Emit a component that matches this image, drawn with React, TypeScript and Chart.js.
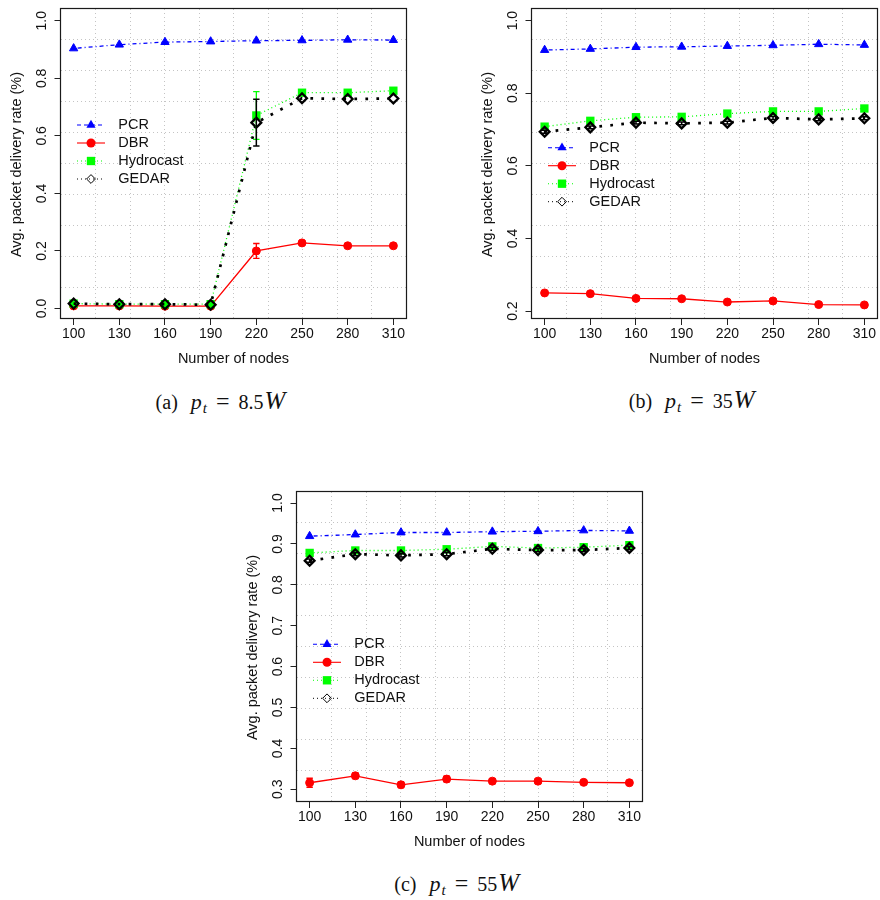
import React, { useEffect, useRef } from "react";
import { Chart, registerables } from "chart.js";

Chart.register(...registerables);

// ---------- data ----------
const nodes = [100, 130, 160, 190, 220, 250, 280, 310];
const xTicks = [100, 130, 160, 190, 220, 250, 280, 310];
const xRange = [91.7, 318.3];
const seriesNames = ["PCR", "DBR", "Hydrocast", "GEDAR"];

// (a) p_t = 8.5W
const pcrA = [0.904, 0.917, 0.926, 0.928, 0.931, 0.932, 0.934, 0.933];
const dbrA = [0.009, 0.009, 0.008, 0.008, 0.2, 0.228, 0.218, 0.218];
const hydroA = [0.017, 0.015, 0.015, 0.015, 0.671, 0.75, 0.75, 0.757];
const gedarA = [0.017, 0.015, 0.015, 0.013, 0.646, 0.731, 0.728, 0.73];
const pcrErrA = [0, 0, 0, 0, 0, 0, 0, 0];
const dbrErrA = [0, 0, 0, 0, 0.026, 0, 0, 0];
const hydroErrA = [0, 0, 0, 0, 0.083, 0, 0, 0];
const gedarErrA = [0, 0, 0, 0, 0.081, 0, 0, 0];
const yTicksA = [0, 0.2, 0.4, 0.6, 0.8, 1.0];
const yLabelsA = ["0.0", "0.2", "0.4", "0.6", "0.8", "1.0"];
const yRangeA = [-0.033, 1.041];

// (b) p_t = 35W
const pcrB = [0.919, 0.922, 0.927, 0.928, 0.93, 0.932, 0.935, 0.933];
const dbrB = [0.25, 0.248, 0.235, 0.234, 0.225, 0.228, 0.218, 0.217];
const hydroB = [0.708, 0.724, 0.734, 0.735, 0.744, 0.75, 0.75, 0.758];
const gedarB = [0.694, 0.706, 0.719, 0.717, 0.719, 0.732, 0.728, 0.731];
const pcrErrB = [0, 0, 0, 0, 0, 0, 0, 0];
const dbrErrB = [0.004, 0.004, 0.004, 0.004, 0.004, 0.004, 0.003, 0.003];
const hydroErrB = [0, 0, 0, 0, 0, 0, 0, 0];
const gedarErrB = [0.004, 0.004, 0.004, 0.004, 0.004, 0.004, 0.004, 0.004];
const yTicksB = [0.2, 0.4, 0.6, 0.8, 1.0];
const yLabelsB = ["0.2", "0.4", "0.6", "0.8", "1.0"];
const yRangeB = [0.181, 1.032];

// (c) p_t = 55W
const pcrC = [0.919, 0.923, 0.928, 0.928, 0.93, 0.931, 0.933, 0.932];
const dbrC = [0.316, 0.333, 0.311, 0.325, 0.32, 0.32, 0.317, 0.316];
const hydroC = [0.878, 0.884, 0.884, 0.887, 0.894, 0.89, 0.892, 0.897];
const gedarC = [0.859, 0.875, 0.872, 0.875, 0.888, 0.885, 0.885, 0.89];
const pcrErrC = [0, 0, 0, 0, 0, 0, 0, 0];
const dbrErrC = [0.011, 0.007, 0.007, 0.007, 0.006, 0.006, 0.004, 0.004];
const hydroErrC = [0, 0, 0, 0, 0, 0, 0, 0];
const gedarErrC = [0.004, 0.004, 0.004, 0.004, 0.004, 0.004, 0.004, 0.004];
const yTicksC = [0.3, 0.4, 0.5, 0.6, 0.7, 0.8, 0.9, 1.0];
const yLabelsC = ["0.3", "0.4", "0.5", "0.6", "0.7", "0.8", "0.9", "1.0"];
const yRangeC = [0.2714, 1.027];

// ---------- styles ----------
const STYLES = [
  { color: "#0000FF", dash: [1, 3, 4, 3], width: 1.3, point: "triangle", radius: 4.8, pb: 1, fill: true, lw: 1.1, ldash: [4, 3], errW: 1 },
  { color: "#FF0000", dash: [], width: 1.3, point: "circle", radius: 4.0, pb: 1, fill: true, lw: 1.1, ldash: [], errW: 1.3 },
  { color: "#00FF00", dash: [1, 3], width: 1.3, point: "rect", radius: 5.9, pb: 0, fill: true, lw: 1.1, ldash: [1, 3], errW: 1.3 },
  { color: "#000000", dash: [2.7, 8.3], width: 2.7, point: "rectRot", radius: 4.9, pb: 2.3, fill: false, lw: 1, ldash: [1, 3], errW: 1.5 },
];

const W = 415;
const H = 380;
const FONT = '"Liberation Sans", Arial, Helvetica, sans-serif';

type PanelDef = {
  values: number[][];
  errs: number[][];
  yRange: number[];
  yTicks: number[];
  yLabels: string[];
  legendTop: number;
};

const panelA: PanelDef = {
  values: [pcrA, dbrA, hydroA, gedarA],
  errs: [pcrErrA, dbrErrA, hydroErrA, gedarErrA],
  yRange: yRangeA, yTicks: yTicksA, yLabels: yLabelsA, legendTop: 116,
};
const panelB: PanelDef = {
  values: [pcrB, dbrB, hydroB, gedarB],
  errs: [pcrErrB, dbrErrB, hydroErrB, gedarErrB],
  yRange: yRangeB, yTicks: yTicksB, yLabels: yLabelsB, legendTop: 138.7,
};
const panelC: PanelDef = {
  values: [pcrC, dbrC, hydroC, gedarC],
  errs: [pcrErrC, dbrErrC, hydroErrC, gedarErrC],
  yRange: yRangeC, yTicks: yTicksC, yLabels: yLabelsC, legendTop: 152.3,
};

function drawMarker(ctx: CanvasRenderingContext2D, kind: string, x: number, y: number, r: number, color: string, fill: boolean, lw: number) {
  ctx.save();
  ctx.setLineDash([]);
  ctx.beginPath();
  if (kind === "triangle") {
    for (let k = 0; k < 3; k++) {
      const a = (k * 2 * Math.PI) / 3;
      const px = x + Math.sin(a) * r;
      const py = y - Math.cos(a) * r;
      if (k === 0) ctx.moveTo(px, py);
      else ctx.lineTo(px, py);
    }
    ctx.closePath();
  } else if (kind === "circle") {
    ctx.arc(x, y, r, 0, Math.PI * 2);
  } else if (kind === "rect") {
    const s = r * Math.SQRT1_2;
    ctx.rect(x - s, y - s, 2 * s, 2 * s);
  } else {
    ctx.moveTo(x, y - r);
    ctx.lineTo(x + r, y);
    ctx.lineTo(x, y + r);
    ctx.lineTo(x - r, y);
    ctx.closePath();
  }
  if (fill) {
    ctx.fillStyle = color;
    ctx.fill();
  }
  if (lw > 0) {
    ctx.strokeStyle = color;
    ctx.lineWidth = lw;
    ctx.stroke();
  }
  ctx.restore();
}

function makeDecor(def: PanelDef) {
  return {
    id: "panelDecor",
    afterDatasetsDraw(chart: any) {
      const ctx: CanvasRenderingContext2D = chart.ctx;
      const xs = chart.scales.x;
      const ys = chart.scales.y;
      def.errs.forEach((errs, si) => {
        const st = STYLES[si];
        errs.forEach((e, i) => {
          if (!e) return;
          const v = def.values[si][i];
          const px = xs.getPixelForValue(nodes[i]);
          const y1 = ys.getPixelForValue(v - e);
          const y2 = ys.getPixelForValue(v + e);
          ctx.save();
          ctx.setLineDash([]);
          ctx.strokeStyle = st.color;
          ctx.lineWidth = st.errW;
          ctx.beginPath();
          ctx.moveTo(px, y1);
          ctx.lineTo(px, y2);
          ctx.moveTo(px - 3.2, y1);
          ctx.lineTo(px + 3.2, y1);
          ctx.moveTo(px - 3.2, y2);
          ctx.lineTo(px + 3.2, y2);
          ctx.stroke();
          ctx.restore();
        });
      });
    },
    afterDraw(chart: any) {
      const ctx: CanvasRenderingContext2D = chart.ctx;
      const ca = chart.chartArea;
      const xs = chart.scales.x;
      const ys = chart.scales.y;
      ctx.save();
      // box
      ctx.setLineDash([]);
      ctx.strokeStyle = "#1a1a1a";
      ctx.lineWidth = 1.2;
      ctx.strokeRect(ca.left - 0.5, ca.top - 0.5, ca.right - ca.left + 1, ca.bottom - ca.top + 1);
      ctx.fillStyle = "#111";
      // x tick labels
      ctx.font = "14px " + FONT;
      ctx.textAlign = "center";
      ctx.textBaseline = "middle";
      xTicks.forEach((v) => {
        ctx.fillText(String(v), xs.getPixelForValue(v), ca.bottom + 16.5);
      });
      // y tick labels (rotated)
      def.yTicks.forEach((v, i) => {
        ctx.save();
        ctx.translate(ca.left - 19, ys.getPixelForValue(v));
        ctx.rotate(-Math.PI / 2);
        ctx.fillText(def.yLabels[i], 0, 0);
        ctx.restore();
      });
      // axis titles
      ctx.font = "14.5px " + FONT;
      ctx.fillText("Number of nodes", (ca.left + ca.right) / 2, ca.bottom + 41);
      ctx.save();
      ctx.translate(ca.left - 44, (ca.top + ca.bottom) / 2 + 1);
      ctx.rotate(-Math.PI / 2);
      ctx.fillText("Avg. packet delivery rate (%)", 0, 0);
      ctx.restore();
      // legend
      ctx.textAlign = "left";
      seriesNames.forEach((name, i) => {
        const st = STYLES[i];
        const y = ca.top + def.legendTop + i * 18;
        ctx.save();
        ctx.strokeStyle = st.color;
        ctx.lineWidth = st.lw;
        ctx.setLineDash(st.ldash);
        ctx.beginPath();
        ctx.moveTo(ca.left + 16, y);
        ctx.lineTo(ca.left + 44, y);
        ctx.stroke();
        ctx.restore();
        const r = i === 3 ? 4.4 : st.radius + (st.pb ? 0.5 : 0);
        drawMarker(ctx, st.point, ca.left + 30, y, r, st.color, st.fill, i === 3 ? 1 : 0);
        ctx.fillStyle = "#111";
        ctx.fillText(name, ca.left + 57.3, y);
      });
      ctx.restore();
    },
  };
}

function gridPositions(range: number[]) {
  const step = (range[1] - range[0]) / 10;
  const out: number[] = [];
  for (let k = 1; k < 10; k++) out.push(range[0] + k * step);
  return out;
}

function buildConfig(def: PanelDef): any {
  const gridX = gridPositions(xRange);
  const gridY = gridPositions(def.yRange);
  return {
    type: "line",
    data: {
      datasets: def.values.map((vals, i) => {
        const st = STYLES[i];
        return {
          label: seriesNames[i],
          data: nodes.map((x, j) => ({ x, y: vals[j] })),
          borderColor: st.color,
          backgroundColor: st.fill ? st.color : "rgba(0,0,0,0)",
          borderWidth: st.width,
          borderDash: st.dash,
          pointStyle: st.point,
          pointRadius: st.radius,
          pointHoverRadius: st.radius,
          pointBorderWidth: st.pb,
          pointBackgroundColor: st.fill ? st.color : "rgba(0,0,0,0)",
          pointBorderColor: st.color,
          tension: 0,
          fill: false,
          order: 3 - i,
        };
      }),
    },
    options: {
      responsive: false,
      animation: false,
      devicePixelRatio: 1,
      events: [],
      layout: { padding: { left: 0, top: 9, right: 9, bottom: 0 } },
      plugins: { legend: { display: false }, tooltip: { enabled: false }, title: { display: false } },
      scales: {
        x: {
          type: "linear",
          position: "bottom",
          min: xRange[0],
          max: xRange[1],
          ticks: { display: false },
          grid: { display: true, drawOnChartArea: false, drawTicks: true, tickLength: 7, color: "#222", lineWidth: 1 },
          border: { display: false },
          afterBuildTicks: (s: any) => {
            s.ticks = xTicks.map((v) => ({ value: v }));
          },
          afterFit: (s: any) => {
            s.height = 62;
          },
        },
        y: {
          type: "linear",
          position: "left",
          min: def.yRange[0],
          max: def.yRange[1],
          ticks: { display: false },
          grid: { display: true, drawOnChartArea: false, drawTicks: true, tickLength: 6.5, color: "#222", lineWidth: 1 },
          border: { display: false },
          afterBuildTicks: (s: any) => {
            s.ticks = def.yTicks.map((v) => ({ value: v }));
          },
          afterFit: (s: any) => {
            s.width = 61;
          },
        },
        xg: {
          type: "linear",
          position: "bottom",
          min: xRange[0],
          max: xRange[1],
          ticks: { display: false },
          grid: { display: true, drawTicks: false, color: "#c4c4c4", lineWidth: 1 },
          border: { display: false, dash: [1, 3] },
          afterBuildTicks: (s: any) => {
            s.ticks = gridX.map((v) => ({ value: v }));
          },
          afterFit: (s: any) => {
            s.height = 0;
          },
        },
        yg: {
          type: "linear",
          position: "left",
          min: def.yRange[0],
          max: def.yRange[1],
          ticks: { display: false },
          grid: { display: true, drawTicks: false, color: "#c4c4c4", lineWidth: 1 },
          border: { display: false, dash: [1, 3] },
          afterBuildTicks: (s: any) => {
            s.ticks = gridY.map((v) => ({ value: v }));
          },
          afterFit: (s: any) => {
            s.width = 0;
          },
        },
      },
    },
    plugins: [makeDecor(def)],
  };
}

function Panel({ def, left, top }: { def: PanelDef; left: number; top: number }) {
  const ref = useRef<HTMLCanvasElement | null>(null);
  useEffect(() => {
    if (!ref.current) return;
    const chart = new Chart(ref.current, buildConfig(def));
    return () => chart.destroy();
  }, [def]);
  return (
    <canvas
      ref={ref}
      width={W}
      height={H}
      style={{ position: "absolute", left, top, width: W, height: H }}
    />
  );
}

function Caption({ letter, value, cx, cy }: { letter: string; value: string; cx: number; cy: number }) {
  return (
    <div
      style={{
        position: "absolute",
        left: cx,
        top: cy - 12,
        transform: "translateX(-50%)",
        whiteSpace: "nowrap",
        fontFamily: '"Liberation Serif", "Times New Roman", serif',
        fontSize: 20,
        lineHeight: "24px",
        color: "#111",
      }}
    >
      <span>({letter})</span>
      <span style={{ marginLeft: 13, fontStyle: "italic", fontSize: 22 }}>p</span>
      <span style={{ fontStyle: "italic", fontSize: 15, position: "relative", top: 4, marginLeft: 1 }}>t</span>
      <span style={{ margin: "0 9px", fontSize: 24 }}>=</span>
      <span>{value}</span>
      <span style={{ fontStyle: "italic", fontSize: 25, marginLeft: 1 }}>W</span>
    </div>
  );
}

export default function App() {
  return (
    <div
      style={{
        position: "fixed",
        left: 0,
        top: 0,
        width: 880,
        height: 900,
        background: "#fff",
        overflow: "hidden",
      }}
    >
      <Panel def={panelA} left={0} top={0} />
      <Panel def={panelB} left={471} top={0} />
      <Panel def={panelC} left={236} top={483} />
      <Caption letter="a" value="8.5" cx={220.5} cy={401} />
      <Caption letter="b" value="35" cx={691.7} cy={400} />
      <Caption letter="c" value="55" cx={456.7} cy={883} />
    </div>
  );
}
